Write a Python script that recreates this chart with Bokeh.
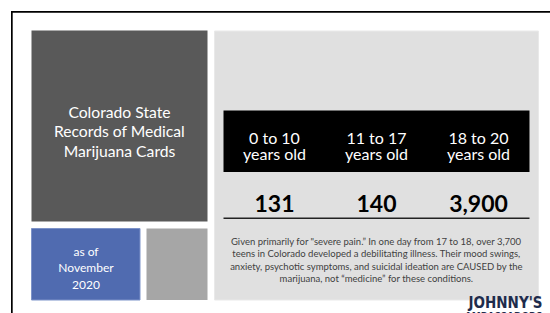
from bokeh.plotting import figure
from bokeh.models import Range1d
from bokeh.core.properties import value
from bokeh.embed import file_html
from bokeh.resources import INLINE

# ---- data ----
age_groups = ["0 to 10", "11 to 17", "18 to 20"]
age_unit = "years old"
card_counts = [131, 140, 3900]
title_lines = ["Colorado State", "Records of Medical", "Marijuana Cards"]
date_lines = ["as of", "November", "2020"]
note_lines = [
    "Given primarily for \"severe pain.\u201d In one day from 17 to 18, over 3,700",
    "teens in Colorado developed a debilitating illness. Their mood swings,",
    "anxiety, psychotic symptoms, and suicidal ideation are CAUSED by the",
    "marijuana, not \u201cmedicine\u201d for these conditions.",
]
logo_lines = ["JOHNNY'S", "AMBASSADORS"]

# ---- figure (coordinates are slide pixels) ----
W, H = 550, 313
p = figure(width=W, height=H, x_range=Range1d(0, W), y_range=Range1d(H, 0),
           output_backend="svg", toolbar_location=None, min_border=0)
p.axis.visible = False
p.grid.visible = False
p.outline_line_color = None
p.background_fill_color = "white"
p.border_fill_color = "white"

FONT = value("Lato")

# slide frame
p.quad(left=[10.5, 10.5], right=[W, 12.2], top=[10.5, 10.5], bottom=[12.2, H],
       fill_color="black", line_color=None)

# left blocks
p.quad(left=[31], right=[207], top=[30], bottom=[221], fill_color="#595959", line_color=None)
p.quad(left=[31], right=[139.5], top=[228], bottom=[299.5], fill_color="#506bb0",
       line_color="#7d93c9", line_width=1)
p.quad(left=[146], right=[207], top=[228], bottom=[299.5], fill_color="#a6a6a6", line_color=None)

# right panel
p.quad(left=[214], right=[538], top=[30.5], bottom=[299.5], fill_color="#e0e0e0",
       line_color="#e9e9e9", line_width=1)

# table
t_left, t_right = 223, 529
n = len(age_groups)
col_w = (t_right - t_left) / n
centers = [t_left + (i + 0.5) * col_w for i in range(n)]
p.quad(left=[t_left], right=[t_right], top=[110], bottom=[171.5], fill_color="black", line_color=None)
p.line(x=[t_left, t_right], y=[217.8, 217.8], line_color="#222222", line_width=1.4)

p.text(x=centers, y=[136.7] * n, text=age_groups, text_font=FONT, text_font_size=value("16px"),
       text_align="center", text_baseline="alphabetic", text_color="white")
p.text(x=centers, y=[153] * n, text=[age_unit] * n, text_font=FONT, text_font_size=value("16px"),
       text_align="center", text_baseline="alphabetic", text_color="white")
p.text(x=centers, y=[202.7] * n, text=[f"{v:,}" for v in card_counts], text_font=FONT,
       text_font_size=value("23px"), text_font_style="bold",
       text_align="center", text_baseline="alphabetic", text_color="black")

# title block text
p.text(x=[119] * len(title_lines), y=[111 + 19.5 * i for i in range(len(title_lines))],
       text=title_lines, text_font=FONT, text_font_size=value("15.7px"),
       text_align="center", text_baseline="alphabetic", text_color="white")

# date block text
p.text(x=[85.5] * len(date_lines), y=[250.5 + 16.8 * i for i in range(len(date_lines))],
       text=date_lines, text_font=FONT, text_font_size=value("12px"),
       text_align="center", text_baseline="alphabetic", text_color="white")

# note text
p.text(x=[376] * len(note_lines), y=[240.5 + 12.6 * i for i in range(len(note_lines))],
       text=note_lines, text_font=FONT, text_font_size=value("9.5px"),
       text_align="center", text_baseline="alphabetic", text_color="#404040")

# logo
LOGO_FONT = value("'Liberation Sans Narrow', 'DejaVu Sans Condensed', Roboto, sans-serif")
p.text(x=[542], y=[302], text=[logo_lines[0]], text_font=LOGO_FONT,
       text_font_size=value("15px"), text_font_style="bold",
       text_align="right", text_baseline="alphabetic", text_color="#1e2c4c")
p.text(x=[542], y=[315.5], text=[logo_lines[1]], text_font=LOGO_FONT,
       text_font_size=value("10px"), text_font_style="bold",
       text_align="right", text_baseline="alphabetic", text_color="#1e2c4c")

open("out.html", "w").write(file_html(p, INLINE))
